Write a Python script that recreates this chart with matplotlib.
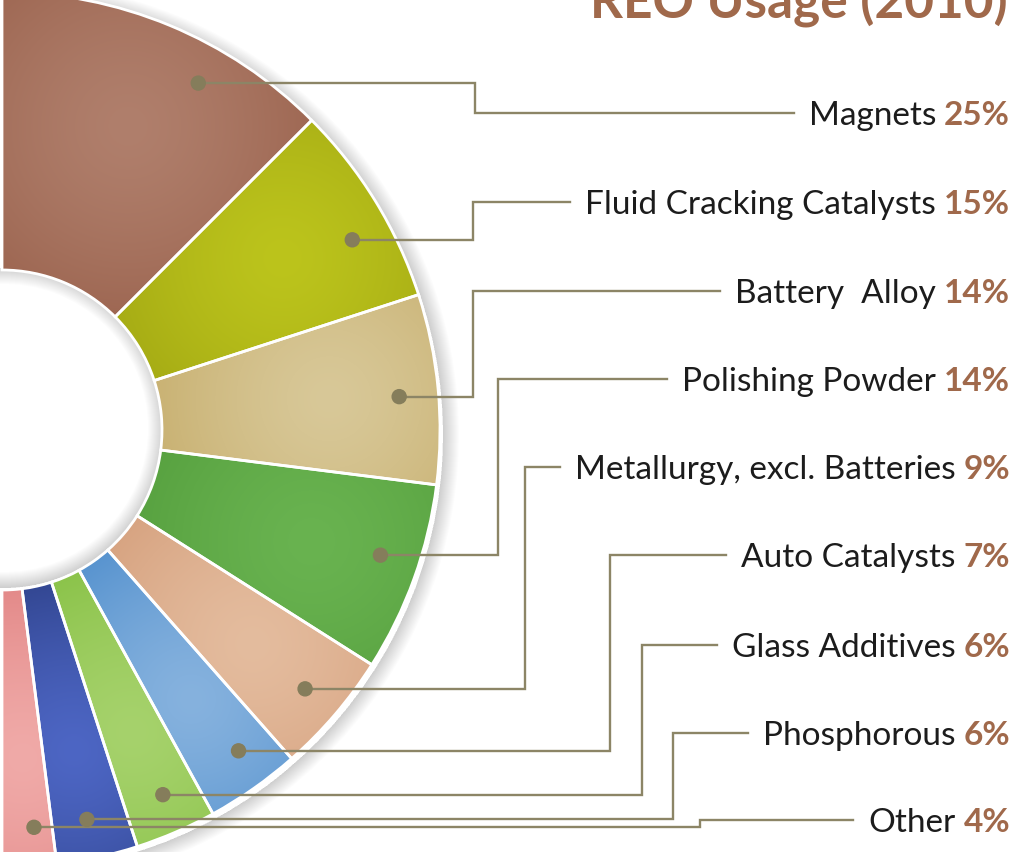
import matplotlib
matplotlib.use("Agg")
import matplotlib.pyplot as plt
import numpy as np
from matplotlib.patches import Wedge, Circle
from matplotlib.colors import to_rgb

# REO usage shares (%), drawn as the right half of a donut
categories = ["Magnets", "Fluid Cracking Catalysts", "Battery  Alloy", "Polishing Powder",
              "Metallurgy, excl. Batteries", "Auto Catalysts", "Glass Additives",
              "Phosphorous", "Other"]
shares = [25, 15, 14, 14, 9, 7, 6, 6, 4]
pct_labels = ["25%", "15%", "14%", "14%", "9%", "7%", "6%", "6%", "4%"]

light = ["#b07f6c", "#bcc41c", "#d8c898", "#69b350", "#e4bc9e", "#86b2de", "#a6d26c", "#4d66c4", "#f0aaa8"]
dark = ["#9a624d", "#9fa412", "#c4aa66", "#529c3b", "#d29a76", "#4587c9", "#80bd3c", "#283a7e", "#de7c7c"]

W, H = 1017, 852
cx, cy = 2, H - 430
R, r_in = 438, 160

# label rows (pixel rows from the top) and elbow columns for the leader lines
label_rows = [113, 202, 291, 379, 467, 555, 645, 733, 820]
elbow_x = [475, 473, 473, 498, 525, 610, 642, 673, 700]
dot_shift = [-7, -3, -0.6, 1.5, 0, 1.3, 0.4, -0.3, 1]

brown = "#a0694b"
line_c = "#8c8566"
dot_c = "#857d5b"
font = ["Lato", "DejaVu Sans"]

fig = plt.figure(figsize=(W / 100, H / 100), dpi=100)
ax = fig.add_axes([0, 0, 1, 1])

# half donut: the real shares take 180 degrees, a hidden 100 fills the rest
wedges, _ = ax.pie(shares + [100], radius=R, center=(cx, cy), startangle=90,
                   counterclock=False, colors=light + ["white"],
                   wedgeprops=dict(width=R - r_in, linewidth=0))
wedges[-1].set_visible(False)
wedges = wedges[:-1]
ax.set_xlim(0, W)
ax.set_ylim(0, H)
ax.set_aspect("equal")
ax.axis("off")

# soft shadow round the outer rim and inside the hole
for k in range(16):
    ax.add_patch(Wedge((cx + 4, cy - 5), R + k, -100, 92, width=k + 1,
                       facecolor="black", alpha=0.012, lw=0, zorder=0))
for k in range(16):
    ax.add_patch(Wedge((cx + 2, cy + 2), r_in, -92, 92, width=k + 1,
                       facecolor="black", alpha=0.013, lw=0, zorder=1))

# radial glow inside each slice
for i, w in enumerate(wedges):
    mid = np.deg2rad((w.theta1 + w.theta2) / 2)
    fr = (R + r_in) / 2 + 30
    fx, fy = cx + fr * np.cos(mid), cy + fr * np.sin(mid)
    ext = w.get_path().get_extents()
    x0, x1 = max(ext.x0, 0), min(ext.x1, W)
    y0, y1 = max(ext.y0, 0), min(ext.y1, H)
    xs = np.linspace(x0, x1, 200)
    ys = np.linspace(y0, y1, 200)
    X, Y = np.meshgrid(xs, ys)
    d = np.clip(np.hypot(X - fx, Y - fy) / 220, 0, 1) ** 1.4
    c0, c1 = np.array(to_rgb(light[i])), np.array(to_rgb(dark[i]))
    img = c0 + (c1 - c0) * d[..., None]
    im = ax.imshow(img, extent=(x0, x1, y0, y1), origin="lower",
                   interpolation="bilinear", zorder=2)
    im.set_clip_path(w)
    ax.add_patch(Wedge(w.center, w.r, w.theta1, w.theta2, width=w.width,
                       fill=False, edgecolor="white", lw=2, zorder=3))

fig.canvas.draw()
rend = fig.canvas.get_renderer()

for i, w in enumerate(wedges):
    y_lab = H - label_rows[i]
    ang = np.deg2rad((w.theta1 + w.theta2) / 2 + dot_shift[i])
    rd = 0.91 * R
    dx, dy = cx + rd * np.cos(ang), cy + rd * np.sin(ang)

    pt = ax.text(1010, y_lab - 12, pct_labels[i], ha="right", va="baseline", fontsize=24,
                 fontweight="bold", color=brown, family=font, zorder=5)
    px0 = ax.transData.inverted().transform(pt.get_window_extent(rend))[0][0]
    nt = ax.text(px0 - 8, y_lab - 12, categories[i], ha="right", va="baseline", fontsize=24,
                 color="#1c1c1c", family=font, zorder=5)
    nx0 = ax.transData.inverted().transform(nt.get_window_extent(rend))[0][0]

    ax.plot([dx, elbow_x[i], elbow_x[i], nx0 - 15], [dy, dy, y_lab, y_lab],
            color=line_c, lw=1.7, solid_joinstyle="miter", zorder=4)
    ax.add_patch(Circle((dx, dy), 7, color=dot_c, zorder=6))

ax.text(1008, H - 18, "REO Usage (2010)", ha="right", va="baseline", fontsize=37,
        fontweight="bold", color=brown, family=font)

fig.savefig("out.png", dpi=100)
